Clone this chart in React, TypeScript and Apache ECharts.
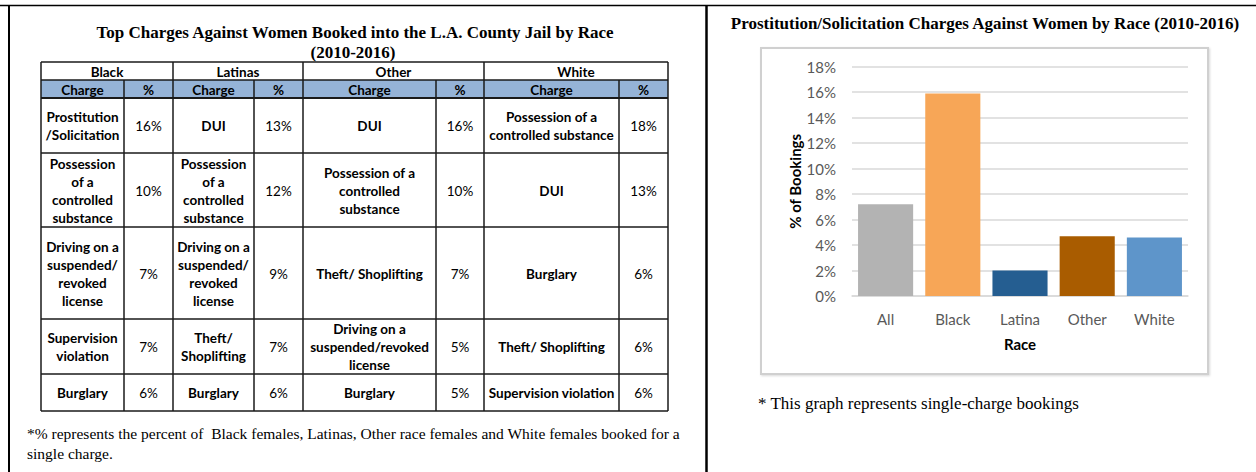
import React, { useEffect, useRef } from 'react';
import * as echarts from 'echarts';

// ---- Bar chart data ----
const categories = ['All', 'Black', 'Latina', 'Other', 'White'];
const bookingShare = [7.2, 15.9, 2.0, 4.7, 4.6];
const barColors = ['#B3B3B3', '#F7A657', '#255E91', '#A95C00', '#5E95CA'];
const chartTitle = 'Prostitution/Solicitation Charges Against Women by Race (2010-2016)';
const chartNote = '* This graph represents single-charge bookings';
const yAxisTitle = '% of Bookings';
const xAxisTitle = 'Race';

// ---- Table data ----
const tableTitle = ['Top Charges Against Women Booked into the L.A. County Jail by Race', '(2010-2016)'];
const raceGroups = ['Black', 'Latinas', 'Other', 'White'];
const blackCharges = ['Prostitution\n/Solicitation', 'Possession\nof a\ncontrolled\nsubstance', 'Driving on a\nsuspended/\nrevoked\nlicense', 'Supervision\nviolation', 'Burglary'];
const blackPct = [16, 10, 7, 7, 6];
const latinaCharges = ['DUI', 'Possession\nof a\ncontrolled\nsubstance', 'Driving on a\nsuspended/\nrevoked\nlicense', 'Theft/\nShoplifting', 'Burglary'];
const latinaPct = [13, 12, 9, 7, 6];
const otherCharges = ['DUI', 'Possession of a\ncontrolled\nsubstance', 'Theft/ Shoplifting', 'Driving on a\nsuspended/revoked\nlicense', 'Burglary'];
const otherPct = [16, 10, 7, 5, 5];
const whiteCharges = ['Possession of a\ncontrolled substance', 'DUI', 'Burglary', 'Theft/ Shoplifting', 'Supervision violation'];
const whitePct = [18, 13, 6, 6, 6];
const tableNote = ['*% represents the percent of  Black females, Latinas, Other race females and White females booked for a', 'single charge.'];

const colEdges = [41, 124, 173, 254, 303, 436, 484, 619, 668];
const rowEdges = [62, 80, 98, 153, 227, 319, 374, 411];

const SERIF = '"Liberation Serif", "Times New Roman", serif';
const SANS = 'Lato, "Noto Sans", sans-serif';

function txt(x: number, y: number, text: string, font: string, opts: any = {}) {
  return {
    type: 'text',
    x,
    y,
    silent: true,
    style: {
      text,
      font,
      fill: opts.fill || '#000',
      align: opts.align || 'center',
      verticalAlign: 'middle',
      textAlign: opts.align || 'center',
      textVerticalAlign: 'middle',
      lineHeight: opts.lineHeight || 18,
    },
  };
}

function line(x1: number, y1: number, x2: number, y2: number, w: number, c = '#000') {
  return { type: 'line', silent: true, shape: { x1, y1, x2, y2 }, style: { stroke: c, lineWidth: w } };
}

function buildTable() {
  const els: any[] = [];
  const L = colEdges[0];
  const R = colEdges[colEdges.length - 1];
  els.push({ type: 'rect', silent: true, shape: { x: L, y: rowEdges[1], width: R - L, height: rowEdges[2] - rowEdges[1] }, style: { fill: '#95B3D7' } });
  rowEdges.forEach((y, i) => els.push(line(L, y, R, y, i === 2 ? 2 : 1.5, '#1a1a1a')));
  colEdges.forEach((x, i) => {
    const full = i % 2 === 0;
    els.push(line(x, full ? rowEdges[0] : rowEdges[1], x, rowEdges[rowEdges.length - 1], 1.5, '#1a1a1a'));
  });
  const charges = [blackCharges, latinaCharges, otherCharges, whiteCharges];
  const pcts = [blackPct, latinaPct, otherPct, whitePct];
  const bold = `bold 13.5px ${SANS}`;
  const reg = `13.5px ${SANS}`;
  raceGroups.forEach((g, gi) => {
    const cx0 = colEdges[gi * 2];
    const cx1 = colEdges[gi * 2 + 1];
    const cx2 = colEdges[gi * 2 + 2];
    els.push(txt((cx0 + cx2) / 2, (rowEdges[0] + rowEdges[1]) / 2 + 0.5, g, bold));
    els.push(txt((cx0 + cx1) / 2, (rowEdges[1] + rowEdges[2]) / 2 + 0.5, 'Charge', bold));
    els.push(txt((cx1 + cx2) / 2, (rowEdges[1] + rowEdges[2]) / 2 + 0.5, '%', bold));
    charges[gi].forEach((c, ri) => {
      const cy = (rowEdges[ri + 2] + rowEdges[ri + 3]) / 2 + 0.5;
      els.push(txt((cx0 + cx1) / 2, cy, c, bold));
      els.push(txt((cx1 + cx2) / 2, cy, pcts[gi][ri] + '%', reg));
    });
  });
  return els;
}

export default function App() {
  const ref = useRef<HTMLDivElement>(null);
  useEffect(() => {
    if (!ref.current) return;
    const chart = echarts.init(ref.current, null, { renderer: 'svg' });
    const graphic: any[] = [
      line(0, 5.5, 1256, 5.5, 1.5),
      line(9, 5, 9, 472, 2),
      line(706.5, 5, 706.5, 472, 2.5),
      txt(355, 32, tableTitle[0], `bold 17px ${SERIF}`),
      txt(353, 52, tableTitle[1], `bold 17px ${SERIF}`),
      ...buildTable(),
      txt(27, 433, tableNote[0], `15.5px ${SERIF}`, { align: 'left' }),
      txt(27, 453, tableNote[1], `15.5px ${SERIF}`, { align: 'left' }),
      txt(985, 23, chartTitle, `bold 17px ${SERIF}`),
      {
        type: 'rect', silent: true, z: -10,
        shape: { x: 761, y: 48, width: 447, height: 326 },
        style: { fill: '#fff', stroke: '#d0d0d0', lineWidth: 2, shadowBlur: 2, shadowColor: 'rgba(0,0,0,0.15)', shadowOffsetX: 1, shadowOffsetY: 1 },
      },
      txt(758, 403, chartNote, `17px ${SERIF}`, { align: 'left' }),
    ];
    chart.setOption({
      animation: false,
      graphic,
      grid: { left: 852, right: 68, top: 66.7, bottom: 176, containLabel: false },
      xAxis: {
        type: 'category',
        data: categories,
        axisTick: { show: false },
        axisLine: { lineStyle: { color: '#d9d9d9', width: 1.5 } },
        axisLabel: { color: '#595959', fontSize: 15, fontFamily: SANS, margin: 15 },
        name: xAxisTitle,
        nameLocation: 'middle',
        nameGap: 40,
        nameTextStyle: { color: '#000', fontSize: 15, fontWeight: 'bold', fontFamily: SANS },
      },
      yAxis: {
        type: 'value',
        min: 0,
        max: 18,
        interval: 2,
        axisLine: { show: false },
        axisTick: { show: false },
        splitLine: { lineStyle: { color: '#d9d9d9', width: 1.5 } },
        axisLabel: { color: '#595959', fontSize: 15, fontFamily: SANS, margin: 16, formatter: '{value}%' },
        name: yAxisTitle,
        nameLocation: 'middle',
        nameRotate: 90,
        nameGap: 50,
        nameTextStyle: { color: '#000', fontSize: 15, fontWeight: 'bold', fontFamily: SANS },
      },
      series: [
        {
          type: 'bar',
          data: bookingShare.map((v, i) => ({ value: v, itemStyle: { color: barColors[i] } })),
          barCategoryGap: '18%',
        },
      ],
    });
    return () => chart.dispose();
  }, []);
  return <div ref={ref} style={{ position: 'fixed', left: 0, top: 0, width: 1256, height: 472, background: '#fff' }} />;
}
